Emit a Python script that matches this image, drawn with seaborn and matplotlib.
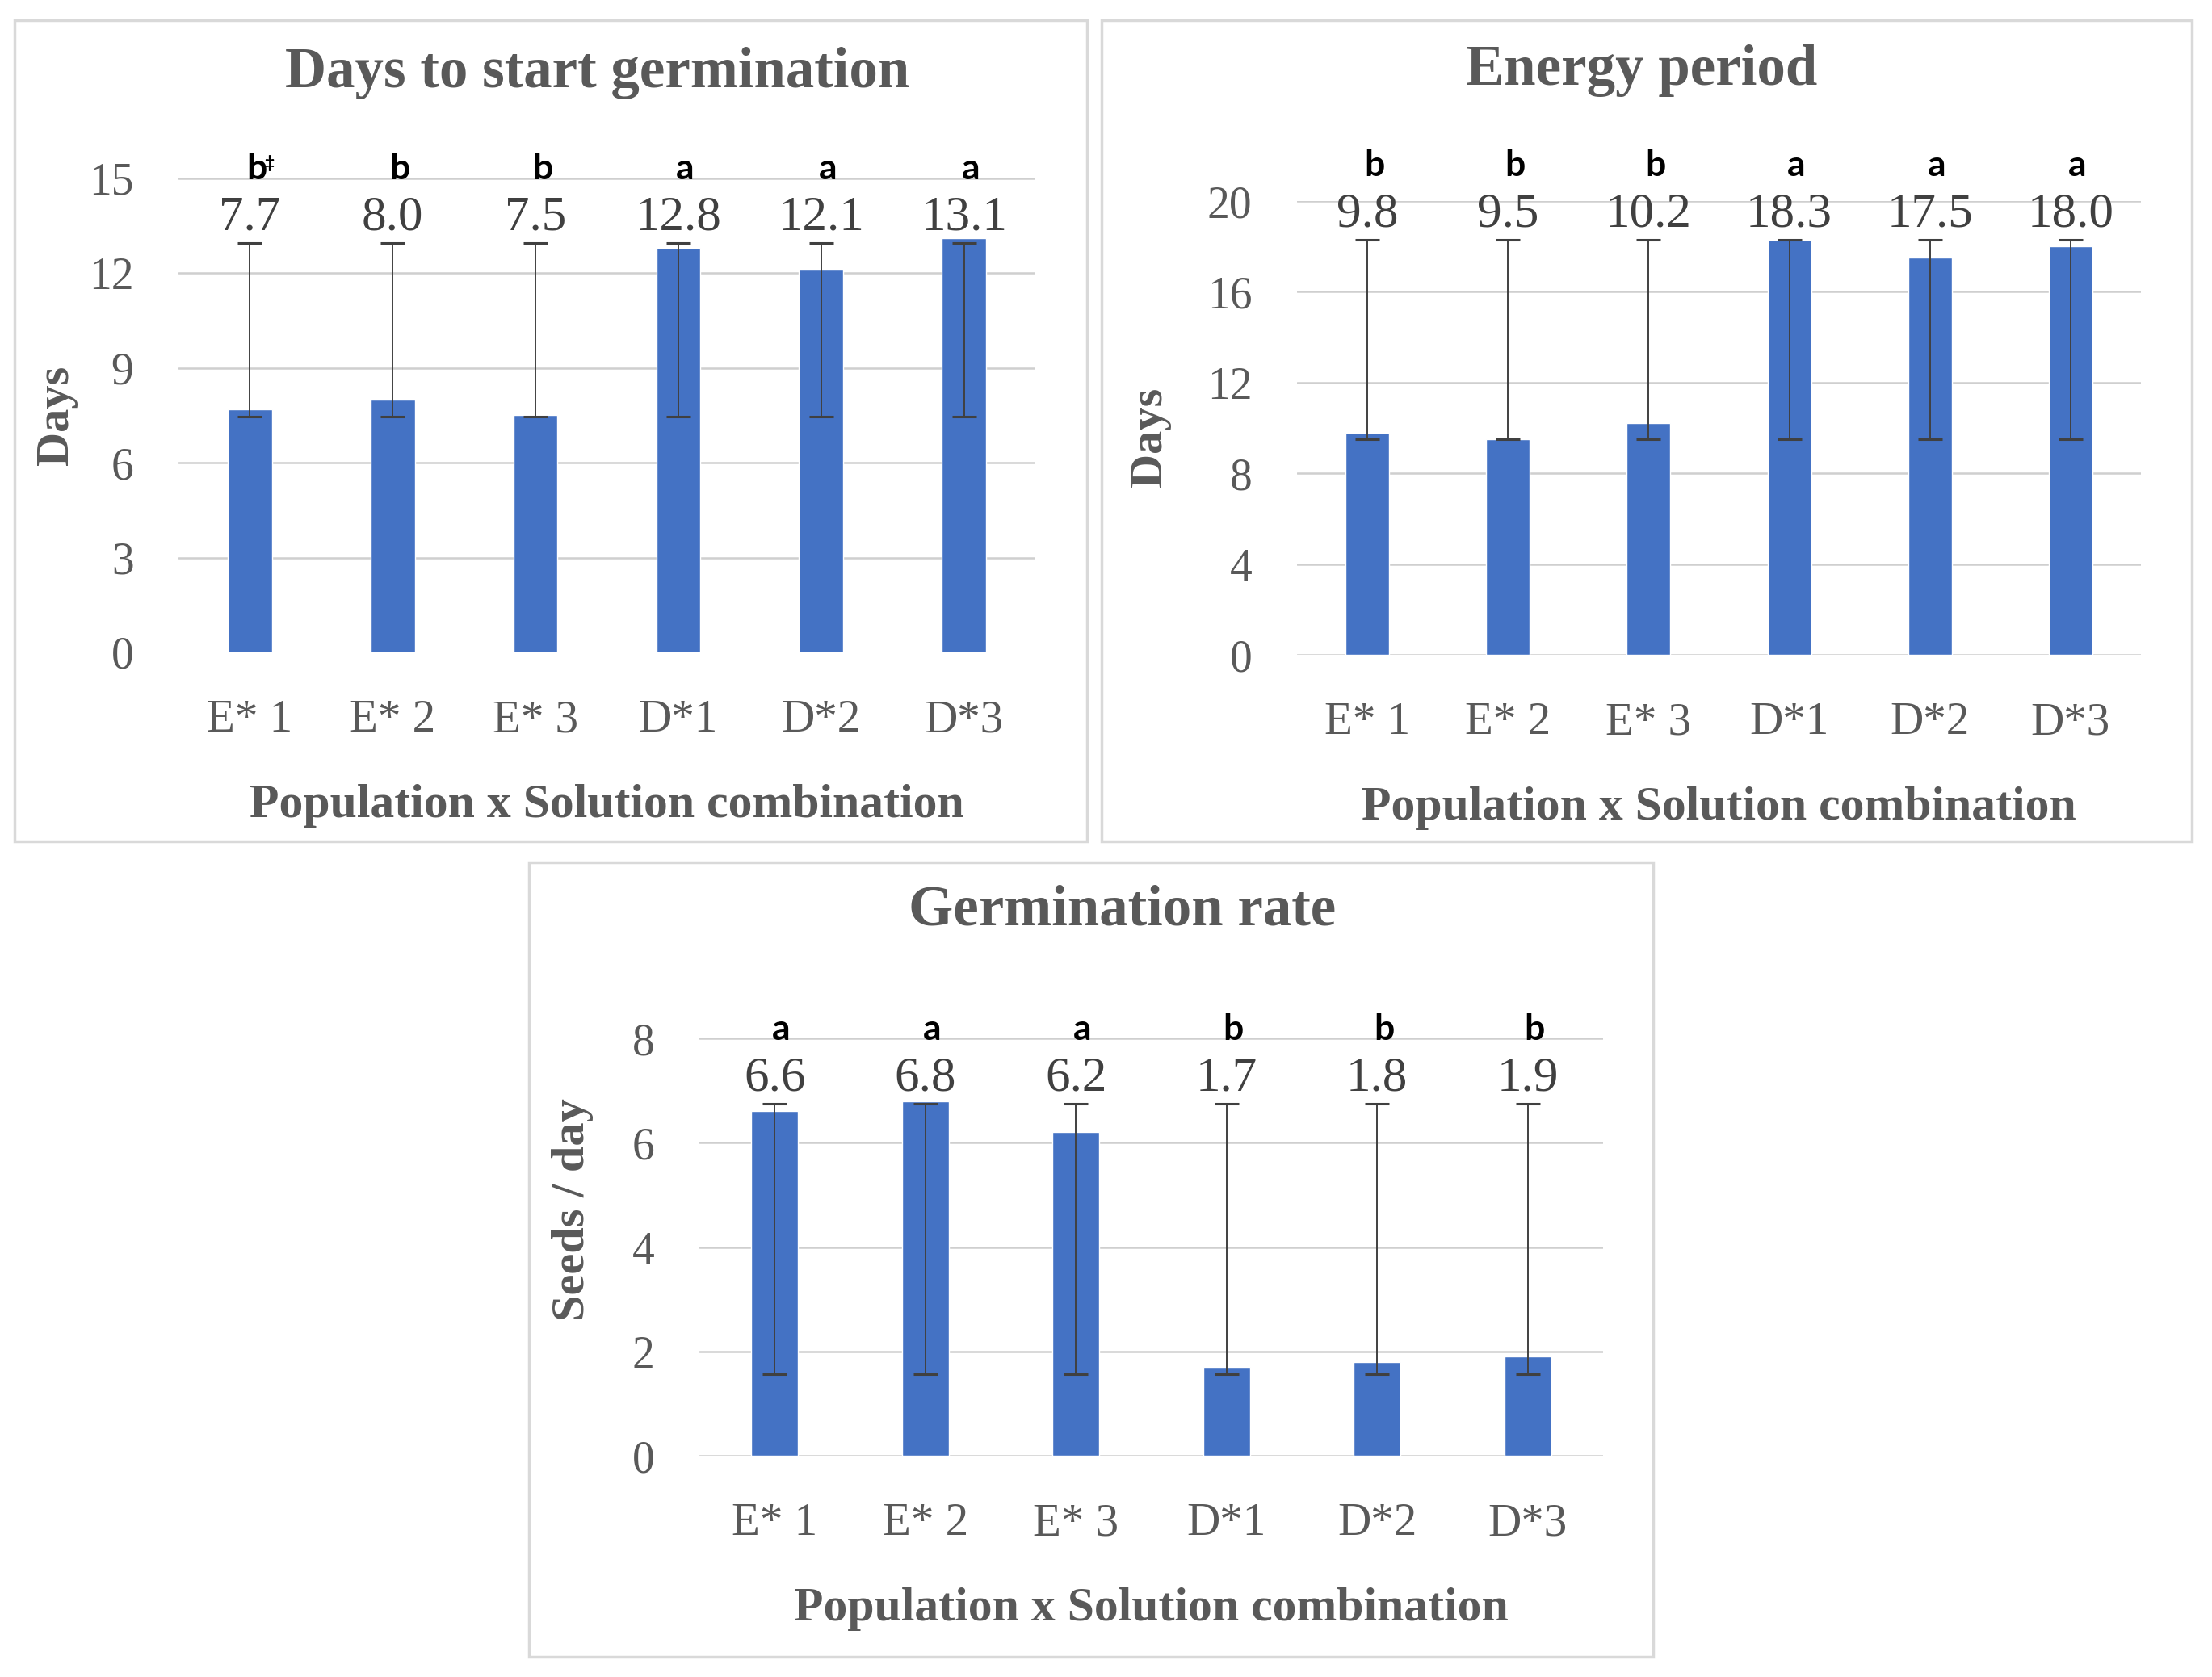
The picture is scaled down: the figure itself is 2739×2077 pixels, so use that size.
import matplotlib
matplotlib.use("Agg")
import matplotlib.pyplot as plt
import seaborn as sns
import numpy as np
import pandas as pd
from matplotlib.patches import Rectangle

# ---------------- data ----------------
categories = ["E* 1", "E* 2", "E* 3", "D*1", "D*2", "D*3"]

days_start = [7.7, 8.0, 7.5, 12.8, 12.1, 13.1]
days_start_letters = ["b", "b", "b", "a", "a", "a"]
days_start_marks = ["‡", "", "", "", "", ""]
days_start_err_low = [7.45, 7.45, 7.45, 7.45, 7.45, 7.45]
days_start_err_high = [12.95, 12.95, 12.95, 12.95, 12.95, 12.95]
days_start_ticks = [0, 3, 6, 9, 12, 15]

energy = [9.8, 9.5, 10.2, 18.3, 17.5, 18.0]
energy_letters = ["b", "b", "b", "a", "a", "a"]
energy_marks = ["", "", "", "", "", ""]
energy_err_low = [9.5, 9.5, 9.5, 9.5, 9.5, 9.5]
energy_err_high = [18.3, 18.3, 18.3, 18.3, 18.3, 18.3]
energy_ticks = [0, 4, 8, 12, 16, 20]

rate = [6.6, 6.8, 6.2, 1.7, 1.8, 1.9]
rate_letters = ["a", "a", "a", "b", "b", "b"]
rate_marks = ["", "", "", "", "", ""]
rate_err_low = [1.57, 1.57, 1.57, 1.57, 1.57, 1.57]
rate_err_high = [6.75, 6.75, 6.75, 6.75, 6.75, 6.75]
rate_ticks = [0, 2, 4, 6, 8]

# ---------------- style ----------------
sns.set_theme(style="white")
plt.rcParams["font.family"] = ["Liberation Serif", "DejaVu Serif"]

BLUE = "#4472C4"
GRID = "#CFCFCF"
TXT = "#595959"
VAL = "#404040"
ERR = "#404040"
BORDER = "#D9D9D9"
SANS = ["Lato", "DejaVu Sans"]

W, H = 2739, 2077
fig = plt.figure(figsize=(W / 100, H / 100), dpi=100)
fig.patch.set_facecolor("white")


def px_rect(x0, y0, x1, y1):
    return [x0 / W, 1 - y1 / H, (x1 - x0) / W, (y1 - y0) / H]


def panel(axrect, border, values, letters, marks, lo, hi, ticks,
          title, title_xy, ylabel, ylabel_xy):
    l, b, w, h = px_rect(*border)
    fig.add_artist(Rectangle((l, b), w, h, transform=fig.transFigure,
                             fill=False, ec=BORDER, lw=2.5, zorder=0))
    ax = fig.add_axes(px_rect(*axrect))
    df = pd.DataFrame({"cat": categories, "val": values})
    sns.barplot(data=df, x="cat", y="val", ax=ax, color=BLUE, saturation=1,
                width=0.31, errorbar=None, zorder=2)
    x = np.arange(len(categories))
    lo = np.asarray(lo)
    hi = np.asarray(hi)
    ax.errorbar(x, (lo + hi) / 2, yerr=(hi - lo) / 2, fmt="none",
                ecolor=ERR, elinewidth=1.4, capsize=11, capthick=2.2, zorder=3)
    ax.set_xlim(-0.5, len(categories) - 0.5)
    ax.set_ylim(ticks[0], ticks[-1])
    ax.set_yticks(ticks)
    ax.yaxis.grid(True, color=GRID, lw=1.8)
    ax.xaxis.grid(False)
    ax.set_axisbelow(True)
    for s in ax.spines.values():
        s.set_visible(False)
    ax.tick_params(axis="y", length=0, pad=40, labelsize=40, labelcolor=TXT)
    ax.tick_params(axis="x", length=0, pad=42, labelsize=41, labelcolor=TXT)
    ax.set_xlabel("Population x Solution combination", fontsize=43,
                  fontweight="bold", color=TXT, labelpad=38)
    ax.set_ylabel(ylabel, fontsize=42, fontweight="bold", color=TXT)
    ax.yaxis.set_label_coords(*ylabel_xy)
    for xi, v, top, let, mk in zip(x, values, hi, letters, marks):
        ax.annotate(f"{v:.1f}", (xi, top), xytext=(0, 12),
                    textcoords="offset points", ha="center", va="baseline",
                    fontsize=44, color=VAL, annotation_clip=False)
        ax.annotate(let, (xi, top), xytext=(6, 57),
                    textcoords="offset points", ha="center",
                    va="baseline", fontsize=32, fontweight="bold",
                    color="black", family=SANS, annotation_clip=False)
        if mk:
            ax.annotate(mk, (xi, top), xytext=(17, 67),
                        textcoords="offset points", ha="center",
                        va="baseline", fontsize=15, fontweight="bold",
                        color="black", family=SANS, annotation_clip=False)
    fig.text(title_xy[0] / W, 1 - title_xy[1] / H, title, ha="center",
             va="baseline", fontsize=51, fontweight="bold", color=TXT)
    return ax


ax1 = panel((221, 221, 1282, 808), (18, 25, 1346, 1042),
            days_start, days_start_letters, days_start_marks,
            days_start_err_low, days_start_err_high, days_start_ticks,
            "Days to start germination", (740, 108), "Days", (-0.118, 0.5))
ax2 = panel((1606, 249, 2651, 811), (1364, 25, 2714, 1042),
            energy, energy_letters, energy_marks,
            energy_err_low, energy_err_high, energy_ticks,
            "Energy period", (2033, 105), "Days", (-0.149, 0.48))
ax3 = panel((866, 1286, 1985, 1803), (655, 1068, 2047, 2052),
            rate, rate_letters, rate_marks,
            rate_err_low, rate_err_high, rate_ticks,
            "Germination rate", (1390, 1145), "Seeds / day", (-0.117, 0.59))

fig.savefig("out.png", dpi=100, facecolor="white")
